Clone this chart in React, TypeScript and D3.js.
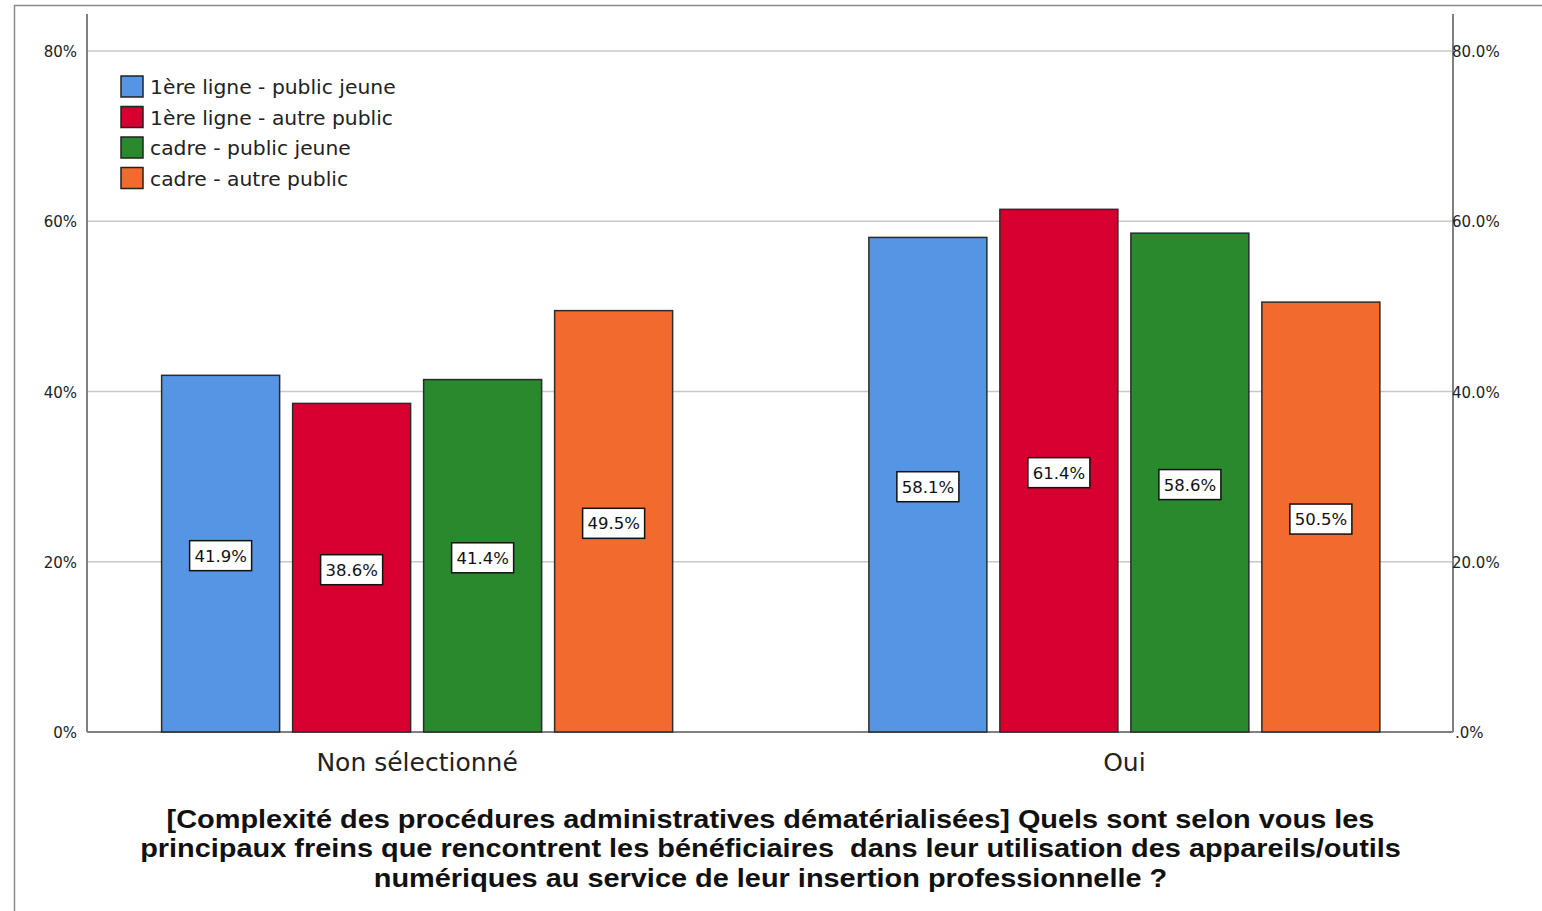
import React from "react";
import * as d3 from "d3";

const categories = ["Non sélectionné", "Oui"];
const seriesNames = [
  "1ère ligne - public jeune",
  "1ère ligne - autre public",
  "cadre - public jeune",
  "cadre - autre public",
];
const seriesColors = ["#5595E3", "#D5002F", "#288A2D", "#F26A2D"];
const nonSelectionne = [41.9, 38.6, 41.4, 49.5];
const oui = [58.1, 61.4, 58.6, 50.5];
const leftTicks = [0, 20, 40, 60, 80];
const leftTickLabels = ["0%", "20%", "40%", "60%", "80%"];
const rightTickLabels = [".0%", "20.0%", "40.0%", "60.0%", "80.0%"];
const titleLines = [
  "[Complexité des procédures administratives dématérialisées] Quels sont selon vous les",
  "principaux freins que rencontrent les bénéficiaires  dans leur utilisation des appareils/outils",
  "numériques au service de leur insertion professionnelle ?",
];

const values = [nonSelectionne, oui];

export default function App() {
  const W = 1542, H = 911;
  const plotLeft = 87, plotRight = 1453, plotTop = 14, plotBottom = 732;
  const y = d3.scaleLinear().domain([0, 80]).range([plotBottom, 51]);
  const x0 = d3.scaleBand().domain(categories).range([63.5, 1478]).padding(0);
  const groupW = 524;
  const x1 = d3
    .scaleBand()
    .domain(seriesNames)
    .range([0, groupW])
    .paddingInner(13 / 131)
    .paddingOuter(13 / 262);
  const font = "'Liberation Sans', Arial, sans-serif";
  const tickFont = "'DejaVu Sans', 'Liberation Sans', sans-serif";

  return (
    <svg width={W} height={H} style={{ position: "absolute", left: 0, top: 0, background: "#fff" }}>
      <rect x={0} y={0} width={W} height={H} fill="#fff" />
      {/* frame */}
      <line x1={14.5} y1={5} x2={14.5} y2={H} stroke="#8a8a8a" strokeWidth={1.5} />
      <line x1={14} y1={5.5} x2={W} y2={5.5} stroke="#8a8a8a" strokeWidth={1.5} />
      {/* gridlines */}
      {leftTicks.slice(1).map((t) => (
        <line key={t} x1={plotLeft} x2={plotRight} y1={y(t)} y2={y(t)} stroke="#c8c8c8" strokeWidth={1.5} />
      ))}
      {/* axes */}
      <line x1={plotLeft} x2={plotLeft} y1={plotTop} y2={plotBottom} stroke="#808080" strokeWidth={2} />
      <line x1={plotRight} x2={plotRight} y1={plotTop} y2={plotBottom} stroke="#808080" strokeWidth={2} />
      <line x1={plotLeft} x2={plotRight} y1={plotBottom} y2={plotBottom} stroke="#808080" strokeWidth={2} />
      {leftTicks.map((t, i) => (
        <text key={"l" + t} x={77} y={y(t) + 6} textAnchor="end" fontFamily={tickFont} fontSize={15} fill="#222">
          {leftTickLabels[i]}
        </text>
      ))}
      {leftTicks.map((t, i) => (
        <text key={"r" + t} x={i === 0 ? 1455 : 1452} y={y(t) + 6} textAnchor="start" fontFamily={tickFont} fontSize={15} fill="#222">
          {rightTickLabels[i]}
        </text>
      ))}
      {/* bars */}
      {categories.map((c, ci) => {
        const gx = x0(c)! + (x0.bandwidth() - groupW) / 2;
        return (
          <g key={c} transform={`translate(${gx},0)`}>
            {seriesNames.map((s, si) => {
              const v = values[ci][si];
              return (
                <rect
                  key={s}
                  x={x1(s)!}
                  y={y(v)}
                  width={x1.bandwidth()}
                  height={plotBottom - y(v)}
                  fill={seriesColors[si]}
                  stroke="#2b2b2b"
                  strokeWidth={1.5}
                />
              );
            })}
            {seriesNames.map((s, si) => {
              const v = values[ci][si];
              const cx = x1(s)! + x1.bandwidth() / 2;
              const cy = y(v / 2) + 2;
              return (
                <g key={"lab" + s}>
                  <rect x={cx - 31} y={cy - 15} width={62} height={30} fill="#fff" stroke="#111" strokeWidth={1.5} />
                  <text x={cx} y={cy + 6} textAnchor="middle" fontFamily={tickFont} fontSize={16.5} fill="#111">
                    {v.toFixed(1)}%
                  </text>
                </g>
              );
            })}
            <text
              x={groupW / 2}
              y={771}
              textAnchor="middle"
              fontFamily={tickFont}
              fontSize={25}
              fill="#222"
            >
              {c}
            </text>
          </g>
        );
      })}
      {/* legend */}
      {seriesNames.map((s, i) => (
        <g key={"leg" + s} transform={`translate(121, ${76 + i * 30.5})`}>
          <rect x={0} y={0} width={22} height={21} fill={seriesColors[i]} stroke="#222" strokeWidth={1.5} />
          <text x={29} y={18} fontFamily={tickFont} fontSize={20.3} fill="#222">
            {s}
          </text>
        </g>
      ))}
      {/* title */}
      <g transform="translate(770.5,0) scale(1.112,1)">
        {titleLines.map((l, i) => (
          <text
            key={i}
            x={0}
            y={828 + i * 29.5}
            textAnchor="middle"
            fontFamily={font}
            fontWeight="bold"
            fontSize={26}
            fill="#111"
            style={{ whiteSpace: "pre" }}
          >
            {l}
          </text>
        ))}
      </g>
    </svg>
  );
}
